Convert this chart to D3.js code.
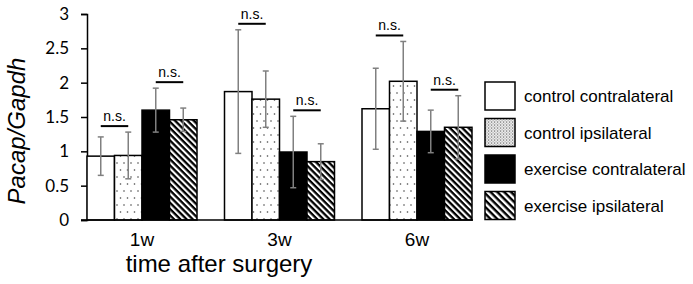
<!DOCTYPE html>
<html>
<head>
<meta charset="utf-8">
<script src="https://cdn.jsdelivr.net/npm/d3@7"></script>
<style>
  body { margin: 0; background: #fff; }
  text { font-family: "Liberation Sans", Arial, sans-serif; fill: #000; }
</style>
</head>
<body>
<div id="container"></div>
<script>
var groups = ['1w', '3w', '6w'];
var series = ['control contralateral', 'control ipsilateral', 'exercise contralateral', 'exercise ipsilateral'];

// mean values per group (1w, 3w, 6w)
var controlContra = [0.93, 1.87, 1.62];
var controlIpsi = [0.94, 1.76, 2.02];
var exerciseContra = [1.60, 0.99, 1.29];
var exerciseIpsi = [1.46, 0.85, 1.35];

// error bar half-lengths
var controlContraErr = [0.28, 0.90, 0.59];
var controlIpsiErr = [0.34, 0.41, 0.58];
var exerciseContraErr = [0.32, 0.52, 0.31];
var exerciseIpsiErr = [0.17, 0.26, 0.46];

var yTicks = [0, 0.5, 1, 1.5, 2, 2.5, 3];
var yTickLabels = ['0', '0.5', '1', '1.5', '2', '2.5', '3'];

// n.s. comparisons inside each group (series index pairs)
var nsPairs = [[0, 1], [2, 3]];

var means = [controlContra, controlIpsi, exerciseContra, exerciseIpsi];
var errs = [controlContraErr, controlIpsiErr, exerciseContraErr, exerciseIpsiErr];
var fills = ['#fff', 'url(#dots)', '#000', 'url(#hatch)'];
var legendFills = ['#fff', 'url(#stipple)', '#000', 'url(#hatchLegend)'];

var width = 693,
    height = 284;

var svg = d3.select('#container')
    .append('svg')
    .attr('width', width)
    .attr('height', height);

var defs = svg.append('defs');

var dots = defs.append('pattern')
    .attr('id', 'dots')
    .attr('patternUnits', 'userSpaceOnUse')
    .attr('width', 7)
    .attr('height', 14);
dots.append('rect').attr('width', 7).attr('height', 14).attr('fill', '#fff');
dots.append('circle').attr('cx', 1.5).attr('cy', 2).attr('r', 0.8).attr('fill', '#444');
dots.append('circle').attr('cx', 5).attr('cy', 9).attr('r', 0.8).attr('fill', '#444');

var stipple = defs.append('pattern')
    .attr('id', 'stipple')
    .attr('patternUnits', 'userSpaceOnUse')
    .attr('width', 3)
    .attr('height', 3);
stipple.append('rect').attr('width', 3).attr('height', 3).attr('fill', '#fff');
stipple.append('rect').attr('x', 0).attr('y', 0).attr('width', 1.2).attr('height', 1.2).attr('fill', '#555');
stipple.append('rect').attr('x', 1.5).attr('y', 1.5).attr('width', 1.2).attr('height', 1.2).attr('fill', '#777');

function hatch(id, size, w) {
    var p = defs.append('pattern')
        .attr('id', id)
        .attr('patternUnits', 'userSpaceOnUse')
        .attr('width', size)
        .attr('height', size)
        .attr('patternTransform', 'rotate(45)');
    p.append('rect').attr('width', size).attr('height', size).attr('fill', '#fff');
    p.append('rect').attr('x', 0).attr('y', 0).attr('width', size).attr('height', w).attr('fill', '#000');
}
hatch('hatch', 4.4, 2.3);
hatch('hatchLegend', 4.8, 2.4);

var y = d3.scaleLinear()
    .domain([0, 3])
    .range([220, 14]);

var x0 = d3.scaleBand()
    .domain(groups)
    .range([87, 472])
    .paddingInner(0.2)
    .paddingOuter(0);

var x1 = d3.scaleBand()
    .domain(d3.range(series.length))
    .range([0, x0.bandwidth()]);

// y axis
var yAxis = svg.append('g')
    .attr('transform', 'translate(87,0)')
    .call(d3.axisLeft(y)
        .tickValues(yTicks)
        .tickSize(6)
        .tickPadding(12)
        .tickFormat(function(d, i) { return yTickLabels[i]; }));
yAxis.select('.domain').attr('stroke', '#000').attr('stroke-width', 1.5);
yAxis.selectAll('.tick line').attr('stroke', '#000').attr('stroke-width', 1.5);
yAxis.selectAll('.tick text')
    .style('font-family', 'Lato, "Open Sans", sans-serif')
    .style('font-size', '17px')
    .attr('fill', '#000');

// bars
var rows = [];
groups.forEach(function(g, gi) {
    series.forEach(function(s, si) {
        rows.push({ group: g, s: si, value: means[si][gi], err: errs[si][gi] });
    });
});

svg.append('g').selectAll('rect')
    .data(rows)
    .enter()
    .append('rect')
    .attr('x', function(d) { return x0(d.group) + x1(d.s); })
    .attr('y', function(d) { return y(d.value); })
    .attr('width', x1.bandwidth())
    .attr('height', function(d) { return y(0) - y(d.value); })
    .attr('fill', function(d) { return fills[d.s]; })
    .attr('stroke', '#000')
    .attr('stroke-width', 1.5);

// error bars
var eb = svg.append('g').selectAll('g')
    .data(rows)
    .enter()
    .append('g')
    .attr('stroke', '#808080')
    .attr('stroke-width', 1.5);
function cx(d) { return x0(d.group) + x1(d.s) + x1.bandwidth() / 2; }
eb.append('line')
    .attr('x1', cx).attr('x2', cx)
    .attr('y1', function(d) { return y(d.value + d.err); })
    .attr('y2', function(d) { return y(d.value - d.err); });
eb.append('line')
    .attr('x1', function(d) { return cx(d) - 3; })
    .attr('x2', function(d) { return cx(d) + 3; })
    .attr('y1', function(d) { return y(d.value + d.err); })
    .attr('y2', function(d) { return y(d.value + d.err); });
eb.append('line')
    .attr('x1', function(d) { return cx(d) - 3; })
    .attr('x2', function(d) { return cx(d) + 3; })
    .attr('y1', function(d) { return y(d.value - d.err); })
    .attr('y2', function(d) { return y(d.value - d.err); });

// x axis line
svg.append('line')
    .attr('x1', 81).attr('x2', 473)
    .attr('y1', y(0)).attr('y2', y(0))
    .attr('stroke', '#000')
    .attr('stroke-width', 1.5);

svg.append('g').selectAll('text')
    .data(groups)
    .enter()
    .append('text')
    .attr('x', function(d) { return x0(d) + x0.bandwidth() / 2; })
    .attr('y', 246)
    .attr('text-anchor', 'middle')
    .style('font-size', '19px')
    .text(function(d) { return d; });

// n.s. markers
var ns = [];
groups.forEach(function(g, gi) {
    nsPairs.forEach(function(p) {
        var top = d3.max(p, function(si) { return means[si][gi] + errs[si][gi]; });
        ns.push({ group: g, a: p[0], b: p[1], top: top });
    });
});
var nsG = svg.append('g').selectAll('g')
    .data(ns)
    .enter()
    .append('g');
nsG.append('line')
    .attr('x1', function(d) { return x0(d.group) + x1(d.a) + x1.bandwidth() / 2; })
    .attr('x2', function(d) { return x0(d.group) + x1(d.b) + x1.bandwidth() / 2; })
    .attr('y1', function(d) { return y(d.top) - 6; })
    .attr('y2', function(d) { return y(d.top) - 6; })
    .attr('stroke', '#000')
    .attr('stroke-width', 2);
nsG.append('text')
    .attr('x', function(d) { return x0(d.group) + x1(d.a) + x1.bandwidth(); })
    .attr('y', function(d) { return y(d.top) - 11; })
    .attr('text-anchor', 'middle')
    .style('font-size', '14px')
    .text('n.s.');

// axis titles
svg.append('text')
    .attr('transform', 'translate(25,131) rotate(-90)')
    .attr('text-anchor', 'middle')
    .style('font-size', '24px')
    .style('font-style', 'italic')
    .text('Pacap/Gapdh');

svg.append('text')
    .attr('x', 219)
    .attr('y', 272)
    .attr('text-anchor', 'middle')
    .style('font-size', '24px')
    .text('time after surgery');

// legend
var legend = svg.append('g').selectAll('g')
    .data(series)
    .enter()
    .append('g')
    .attr('transform', function(d, i) { return 'translate(485,' + (82 + i * 36.5) + ')'; });
legend.append('rect')
    .attr('width', 30)
    .attr('height', 28)
    .attr('fill', function(d, i) { return legendFills[i]; })
    .attr('stroke', '#000')
    .attr('stroke-width', 1.5);
legend.append('text')
    .attr('x', 39)
    .attr('y', 20)
    .style('font-size', '17px')
    .text(function(d) { return d; });
</script>
</body>
</html>
